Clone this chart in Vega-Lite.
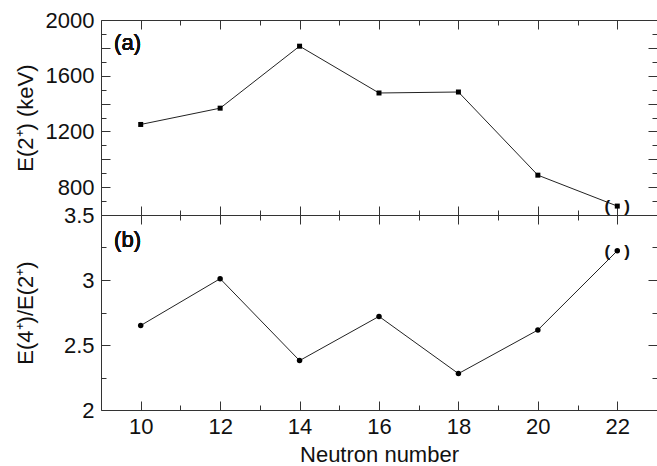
{
  "$schema": "https://vega.github.io/schema/vega-lite/v6.json",
  "autosize": {"type": "pad"},
  "padding": {"left": 13, "top": 8, "right": 0, "bottom": 5},
  "background": "white",
  "spacing": 0,
  "bounds": "flush",
  "config": {
    "view": {"stroke": "#333", "strokeWidth": 1},
    "font": "Liberation Sans",
    "axis": {
      "grid": false,
      "domain": false,
      "tickColor": "#333",
      "tickWidth": 1,
      "labelFont": "Liberation Sans",
      "labelFontSize": 22,
      "labelColor": "#111",
      "labelOverlap": false,
      "labelFlush": false,
      "titleFont": "Liberation Sans",
      "titleFontSize": 22,
      "titleFontWeight": "normal",
      "titleColor": "#111"
    }
  },
  "datasets": {
    "e2": [
      {"N": 10, "E2": 1250},
      {"N": 12, "E2": 1367},
      {"N": 14, "E2": 1812},
      {"N": 16, "E2": 1476},
      {"N": 18, "E2": 1483},
      {"N": 20, "E2": 886},
      {"N": 22, "E2": 664}
    ],
    "ratio": [
      {"N": 10, "R": 2.65},
      {"N": 12, "R": 3.01},
      {"N": 14, "R": 2.38},
      {"N": 16, "R": 2.72},
      {"N": 18, "R": 2.28},
      {"N": 20, "R": 2.615},
      {"N": 22, "R": 3.225}
    ]
  },
  "vconcat": [
    {
      "width": 556,
      "height": 195,
      "data": {"name": "e2"},
      "resolve": {"axis": {"x": "independent", "y": "independent"}},
      "layer": [
        {
          "mark": {"type": "line", "color": "#222", "strokeWidth": 1},
          "encoding": {
            "x": {"field": "N", "type": "quantitative", "scale": {"domain": [9, 23], "nice": false, "zero": false},
              "axis": {"orient": "bottom", "values": [10, 11, 12, 13, 14, 15, 16, 17, 18, 19, 20, 21, 22], "labels": false, "title": null,
                "tickSize": {"condition": {"test": "datum.value % 2 == 0", "value": -9}, "value": -5}}},
            "y": {"field": "E2", "type": "quantitative", "scale": {"domain": [600, 2000], "nice": false, "zero": false},
              "axis": {"orient": "left", "values": [700, 800, 900, 1000, 1100, 1200, 1300, 1400, 1500, 1600, 1700, 1800, 1900, 2000],
                "tickSize": {"condition": {"test": "datum.value % 200 == 0", "value": -9}, "value": -5},
                "labelExpr": "datum.value % 400 == 0 ? '' + datum.value : ''",
                "labelPadding": 16, "minExtent": 56, "maxExtent": 56, "titlePadding": 8,
                "title": "E(2⁺) (keV)"}}
          }
        },
        {
          "mark": {"type": "square", "filled": true, "color": "#000", "size": 25, "opacity": 1},
          "encoding": {
            "x": {"field": "N", "type": "quantitative", "scale": {"domain": [9, 23], "nice": false, "zero": false},
              "axis": {"orient": "top", "values": [10, 11, 12, 13, 14, 15, 16, 17, 18, 19, 20, 21, 22], "labels": false, "title": null,
                "tickSize": {"condition": {"test": "datum.value % 2 == 0", "value": -9}, "value": -5}}},
            "y": {"field": "E2", "type": "quantitative", "scale": {"domain": [600, 2000], "nice": false, "zero": false},
              "axis": {"orient": "right", "values": [700, 800, 900, 1000, 1100, 1200, 1300, 1400, 1500, 1600, 1700, 1800, 1900, 2000],
                "labels": false, "title": null,
                "tickSize": {"condition": {"test": "datum.value % 200 == 0", "value": -9}, "value": -5}}}
          }
        },
        {
          "transform": [{"filter": "datum.N == 22"}],
          "mark": {"type": "text", "text": "(\u00a0\u00a0\u00a0)", "fontWeight": "bold", "fontSize": 17, "font": "Liberation Sans", "color": "#111", "baseline": "middle", "dy": 1},
          "encoding": {
            "x": {"field": "N", "type": "quantitative", "scale": {"domain": [9, 23], "nice": false, "zero": false}, "axis": null},
            "y": {"field": "E2", "type": "quantitative", "scale": {"domain": [600, 2000], "nice": false, "zero": false}, "axis": null}
          }
        },
        {
          "mark": {"type": "text", "text": "(a)", "align": "left", "baseline": "middle", "fontSize": 22, "fontWeight": "normal", "font": "Liberation Sans", "color": "#111"},
          "encoding": {
            "x": {"datum": 9.33, "type": "quantitative", "scale": {"domain": [9, 23], "nice": false, "zero": false}, "axis": null},
            "y": {"datum": 1836, "type": "quantitative", "scale": {"domain": [600, 2000], "nice": false, "zero": false}, "axis": null}
          }
        }
      ]
    },
    {
      "width": 556,
      "height": 195,
      "data": {"name": "ratio"},
      "resolve": {"axis": {"x": "independent", "y": "independent"}},
      "layer": [
        {
          "mark": {"type": "line", "color": "#222", "strokeWidth": 1},
          "encoding": {
            "x": {"field": "N", "type": "quantitative", "scale": {"domain": [9, 23], "nice": false, "zero": false},
              "axis": {"orient": "bottom", "values": [10, 11, 12, 13, 14, 15, 16, 17, 18, 19, 20, 21, 22],
                "labelExpr": "datum.value % 2 == 0 ? '' + datum.value : ''",
                "labelPadding": 15, "titlePadding": 3, "title": "Neutron number",
                "tickSize": {"condition": {"test": "datum.value % 2 == 0", "value": -9}, "value": -5}}},
            "y": {"field": "R", "type": "quantitative", "scale": {"domain": [2, 3.5], "nice": false, "zero": false},
              "axis": {"orient": "left", "values": [2, 2.25, 2.5, 2.75, 3, 3.25, 3.5],
                "tickSize": {"condition": {"test": "(datum.value * 2) % 1 == 0", "value": -9}, "value": -5},
                "labelExpr": "(datum.value * 2) % 1 == 0 ? '' + datum.value : ''",
                "labelPadding": 16, "minExtent": 56, "maxExtent": 56, "titlePadding": 8,
                "title": "E(4⁺)/E(2⁺)"}}
          }
        },
        {
          "mark": {"type": "circle", "color": "#000", "size": 30, "opacity": 1},
          "encoding": {
            "x": {"field": "N", "type": "quantitative", "scale": {"domain": [9, 23], "nice": false, "zero": false},
              "axis": {"orient": "top", "values": [10, 11, 12, 13, 14, 15, 16, 17, 18, 19, 20, 21, 22], "labels": false, "title": null,
                "tickSize": {"condition": {"test": "datum.value % 2 == 0", "value": -9}, "value": -5}}},
            "y": {"field": "R", "type": "quantitative", "scale": {"domain": [2, 3.5], "nice": false, "zero": false},
              "axis": {"orient": "right", "values": [2, 2.25, 2.5, 2.75, 3, 3.25, 3.5], "labels": false, "title": null,
                "tickSize": {"condition": {"test": "(datum.value * 2) % 1 == 0", "value": -9}, "value": -5}}}
          }
        },
        {
          "transform": [{"filter": "datum.N == 22"}],
          "mark": {"type": "text", "text": "(\u00a0\u00a0\u00a0)", "fontWeight": "bold", "fontSize": 17, "font": "Liberation Sans", "color": "#111", "baseline": "middle", "dy": 1},
          "encoding": {
            "x": {"field": "N", "type": "quantitative", "scale": {"domain": [9, 23], "nice": false, "zero": false}, "axis": null},
            "y": {"field": "R", "type": "quantitative", "scale": {"domain": [2, 3.5], "nice": false, "zero": false}, "axis": null}
          }
        },
        {
          "mark": {"type": "text", "text": "(b)", "align": "left", "baseline": "middle", "fontSize": 22, "fontWeight": "normal", "font": "Liberation Sans", "color": "#111"},
          "encoding": {
            "x": {"datum": 9.33, "type": "quantitative", "scale": {"domain": [9, 23], "nice": false, "zero": false}, "axis": null},
            "y": {"datum": 3.31, "type": "quantitative", "scale": {"domain": [2, 3.5], "nice": false, "zero": false}, "axis": null}
          }
        }
      ]
    }
  ]
}
